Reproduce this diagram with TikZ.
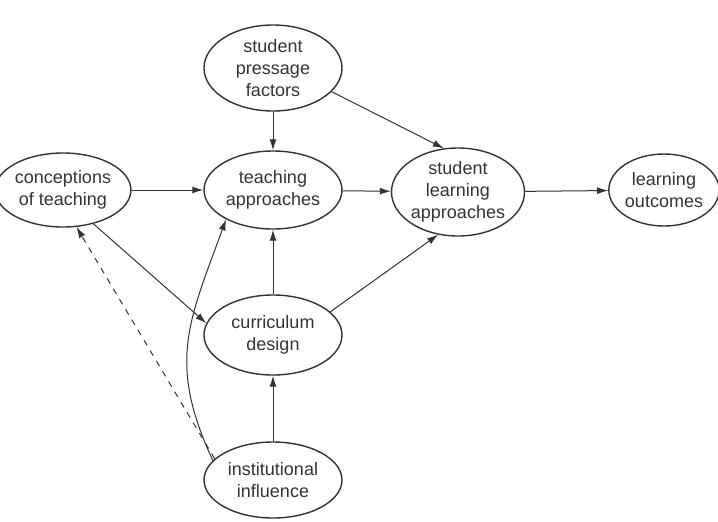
\documentclass[tikz,border=0pt]{standalone}
\usepackage{fontspec}
\setmainfont{Liberation Sans}
\usetikzlibrary{shapes.geometric,arrows.meta}
\begin{document}
\begin{tikzpicture}[x=0.5pt,y=-0.5pt,->,>={Latex[length=5.5pt,width=3.5pt]},
  line width=0.5pt,draw=black!80,
  main node/.style={ellipse,draw,line width=0.7pt,inner sep=0pt,align=center,
    text=black!80,font=\fontsize{9}{11}\selectfont}]

  \useasboundingbox (0,0) rectangle (718,521);

  \node[main node,minimum width=69pt,minimum height=43pt] (pressage) at (273,68) {student\\pressage\\factors};
  \node[main node,minimum width=60pt,minimum height=37pt] (conceptions) at (63,190) {conceptions\\of teaching};
  \node[main node,minimum width=69pt,minimum height=39pt] (teaching) at (273,190) {teaching\\approaches};
  \node[main node,minimum width=66pt,minimum height=44pt] (learning) at (458,192) {student\\learning\\approaches};
  \node[main node,minimum width=54pt,minimum height=36pt] (outcomes) at (664,190) {learning\\outcomes};
  \node[main node,minimum width=69pt,minimum height=40pt] (curriculum) at (273,335) {curriculum\\design};
  \node[main node,minimum width=69pt,minimum height=38pt] (institution) at (273,480) {institutional\\influence};

  \path
    (pressage) edge (teaching)
    (pressage.-22) edge (learning.108)
    (conceptions) edge (teaching)
    (teaching) edge (learning)
    (learning) edge (outcomes)
    (conceptions.-48) edge (curriculum.170)
    (curriculum) edge (teaching)
    (curriculum.22) edge (learning.245)
    (institution) edge (curriculum);

  \draw (institution.162) to[out=115,in=250,looseness=1.15] (teaching.212);
  \draw[dashed] (institution.160) -- (conceptions.290);

\end{tikzpicture}
\end{document}
